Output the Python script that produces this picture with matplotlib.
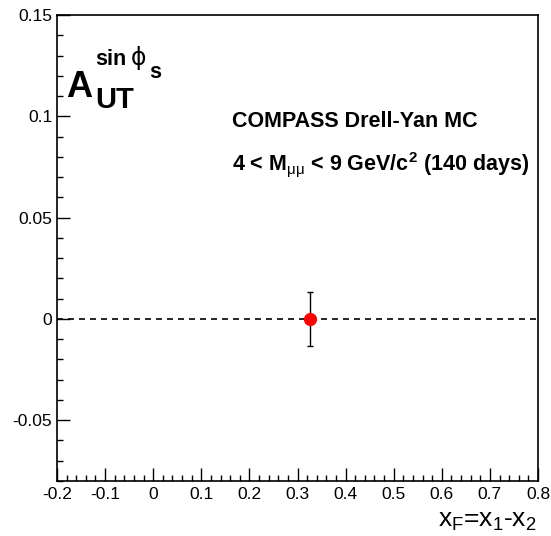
import matplotlib
matplotlib.use('Agg')
import matplotlib.pyplot as plt
from matplotlib.ticker import MultipleLocator

# data
x_f = [0.325]
a_ut = [0.0]
a_err = [0.0133]

plt.rcParams['font.family'] = ['Liberation Sans', 'DejaVu Sans']
plt.rcParams['mathtext.fontset'] = 'custom'
plt.rcParams['mathtext.rm'] = 'Liberation Sans'
plt.rcParams['mathtext.it'] = 'Liberation Sans:italic'
plt.rcParams['mathtext.bf'] = 'Liberation Sans:bold'

W, H = 551, 536
fig = plt.figure(figsize=(W / 100, H / 100), dpi=100)
ax = fig.add_axes([57 / W, 1 - 481 / H, (538 - 57) / W, (481 - 15) / H])

def px(x, y):
    return x / W, 1 - y / H

# zero line
ax.axhline(0, color='black', lw=1.2, linestyle=(0, (3.6, 3)), zorder=1)

# the point
ax.errorbar(x_f, a_ut, yerr=a_err, fmt='o', color='red', ecolor='black',
            markersize=8.5, elinewidth=1, capsize=2.5, capthick=1, zorder=3)

ax.set_xlim(-0.2, 0.8)
ax.set_ylim(-0.08, 0.15)
ax.xaxis.set_major_locator(MultipleLocator(0.1))
ax.xaxis.set_minor_locator(MultipleLocator(0.02))
ax.yaxis.set_major_locator(MultipleLocator(0.05))
ax.yaxis.set_minor_locator(MultipleLocator(0.01))
ax.xaxis.set_major_formatter(plt.FuncFormatter(lambda v, p: ('%g' % round(v, 3))))
ax.yaxis.set_major_formatter(plt.FuncFormatter(lambda v, p: ('%g' % round(v, 3))))
ax.tick_params(which='both', direction='in', top=False, right=False,
               labelsize=12.5, width=1)
ax.tick_params(which='major', length=9.5)
ax.tick_params(which='minor', length=4.5)
ax.tick_params(axis='x', pad=4)
ax.tick_params(axis='y', pad=3.5)
for s in ax.spines.values():
    s.set_linewidth(1.2)

# axis title
fig.text(*px(537, 527), r'x$_{\mathrm{F}}$=x$_{\mathrm{1}}$-x$_{\mathrm{2}}$',
         fontsize=19, ha='right', va='baseline')

# asymmetry label
fig.text(*px(66, 97), 'A', fontsize=26, fontweight='bold', va='baseline')
fig.text(*px(95, 108), 'UT', fontsize=21, fontweight='bold', va='baseline')
fig.text(*px(95, 65), 'sin', fontsize=15.5, fontweight='bold', va='baseline')
fig.text(*px(131, 65), '\u03d5', fontsize=17, va='baseline',
         family=['DejaVu Sans'])
fig.text(*px(149, 78), 's', fontsize=15.5, fontweight='bold', va='baseline')

# labels
ax.text(0.164, 0.0947, 'COMPASS Drell-Yan MC', fontsize=15.5, fontweight='bold',
        va='baseline')
ax.text(0.164, 0.0735,
        r'4 < M$_{\mathrm{\mu\mu}}$ < 9 GeV/c$^{\mathbf{2}}$ (140 days)',
        fontsize=15.5, fontweight='bold', va='baseline')

fig.savefig('out.png', dpi=100)
